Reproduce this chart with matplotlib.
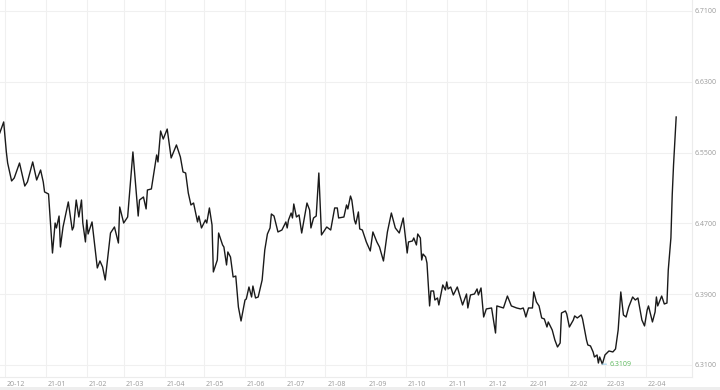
import matplotlib
matplotlib.use("Agg")
import matplotlib.pyplot as plt
import matplotlib.dates as mdates
import pandas as pd
from matplotlib.patches import Rectangle

plt.rcParams['font.family'] = ['Open Sans', 'DejaVu Sans']

dates = [
    "2020-11-27", "2020-11-30", "2020-12-02", "2020-12-03", "2020-12-06", "2020-12-08", "2020-12-12",
    "2020-12-16", "2020-12-18", "2020-12-22", "2020-12-25", "2020-12-28", "2020-12-30", "2020-12-31",
    "2021-01-03", "2021-01-06", "2021-01-08", "2021-01-09", "2021-01-11", "2021-01-12", "2021-01-14",
    "2021-01-18", "2021-01-21", "2021-01-22", "2021-01-24", "2021-01-26", "2021-01-28", "2021-01-29", "2021-01-31",
    "2021-02-01", "2021-02-02", "2021-02-05", "2021-02-09", "2021-02-11", "2021-02-13", "2021-02-15",
    "2021-02-17", "2021-02-19", "2021-02-22", "2021-02-25", "2021-02-26",
    "2021-03-01", "2021-03-04", "2021-03-08", "2021-03-12", "2021-03-13", "2021-03-16", "2021-03-18",
    "2021-03-19", "2021-03-22", "2021-03-26", "2021-03-27", "2021-03-29", "2021-03-31",
    "2021-04-03", "2021-04-06", "2021-04-10", "2021-04-13", "2021-04-15", "2021-04-17", "2021-04-19",
    "2021-04-21", "2021-04-23", "2021-04-26", "2021-04-27", "2021-04-29",
    "2021-05-02", "2021-05-03", "2021-05-05", "2021-05-07", "2021-05-08", "2021-05-11", "2021-05-12", "2021-05-15",
    "2021-05-16", "2021-05-18", "2021-05-19", "2021-05-21", "2021-05-23", "2021-05-25", "2021-05-27", "2021-05-29",
    "2021-06-01", "2021-06-02", "2021-06-04", "2021-06-06", "2021-06-07", "2021-06-09", "2021-06-11", "2021-06-14",
    "2021-06-16", "2021-06-18", "2021-06-20", "2021-06-21", "2021-06-23", "2021-06-26", "2021-06-29",
    "2021-07-02", "2021-07-03", "2021-07-04", "2021-07-06", "2021-07-07", "2021-07-08", "2021-07-10", "2021-07-12",
    "2021-07-14", "2021-07-18", "2021-07-20", "2021-07-21", "2021-07-23", "2021-07-25", "2021-07-27", "2021-07-29",
    "2021-08-02", "2021-08-05", "2021-08-08", "2021-08-10", "2021-08-11", "2021-08-15", "2021-08-17", "2021-08-18",
    "2021-08-20", "2021-08-21", "2021-08-23", "2021-08-24", "2021-08-26", "2021-08-27", "2021-08-29", "2021-08-31",
    "2021-09-01", "2021-09-04", "2021-09-06", "2021-09-09", "2021-09-11", "2021-09-14", "2021-09-17", "2021-09-20",
    "2021-09-23", "2021-09-26", "2021-09-29",
    "2021-10-02", "2021-10-03", "2021-10-06", "2021-10-07", "2021-10-09", "2021-10-10", "2021-10-12", "2021-10-13",
    "2021-10-14", "2021-10-16", "2021-10-17", "2021-10-19", "2021-10-20", "2021-10-22", "2021-10-23", "2021-10-25",
    "2021-10-26", "2021-10-28", "2021-10-29", "2021-10-31",
    "2021-11-01", "2021-11-02", "2021-11-04", "2021-11-06", "2021-11-09", "2021-11-13", "2021-11-16", "2021-11-17",
    "2021-11-19", "2021-11-22", "2021-11-24", "2021-11-25", "2021-11-27", "2021-11-29",
    "2021-12-01", "2021-12-05", "2021-12-08", "2021-12-09", "2021-12-14", "2021-12-17", "2021-12-20", "2021-12-24",
    "2021-12-27", "2021-12-29", "2021-12-30", "2021-12-31",
    "2022-01-02", "2022-01-05", "2022-01-06", "2022-01-08", "2022-01-10", "2022-01-12", "2022-01-14", "2022-01-16",
    "2022-01-17", "2022-01-20", "2022-01-22", "2022-01-24", "2022-01-26", "2022-01-27", "2022-01-30", "2022-01-31",
    "2022-02-02", "2022-02-05", "2022-02-06", "2022-02-08", "2022-02-11", "2022-02-12", "2022-02-15", "2022-02-16",
    "2022-02-18", "2022-02-20", "2022-02-21", "2022-02-23", "2022-02-24", "2022-02-25", "2022-02-27",
    "2022-03-01", "2022-03-04", "2022-03-07", "2022-03-09", "2022-03-11", "2022-03-13", "2022-03-15", "2022-03-17",
    "2022-03-19", "2022-03-22", "2022-03-24", "2022-03-26", "2022-03-29", "2022-03-31",
    "2022-04-02", "2022-04-03", "2022-04-06", "2022-04-08", "2022-04-09", "2022-04-10", "2022-04-13", "2022-04-15",
    "2022-04-17", "2022-04-18", "2022-04-20", "2022-04-21", "2022-04-22", "2022-04-24",
]

rates = [
    6.5721, 6.5846, 6.5507, 6.5382, 6.5179, 6.5213, 6.5382, 6.5122, 6.5168, 6.5394, 6.5190, 6.5303, 6.5168, 6.5055,
    6.5032, 6.4365, 6.4704, 6.4648, 6.4783, 6.4433, 6.4659, 6.4942, 6.4625, 6.4659, 6.4964, 6.4772, 6.4964, 6.4704, 6.4490,
    6.4738, 6.4580, 6.4716, 6.4196, 6.4275, 6.4207, 6.4060, 6.4320, 6.4591, 6.4659, 6.4478, 6.4885,
    6.4704, 6.4772, 6.5507, 6.4783, 6.4964, 6.4998, 6.4863, 6.5077, 6.5089, 6.5473, 6.5394, 6.5744, 6.5653,
    6.5766, 6.5439, 6.5586, 6.5450, 6.5281, 6.5269, 6.5043, 6.4908, 6.4930, 6.4716, 6.4783, 6.4648,
    6.4738, 6.4704, 6.4874, 6.4682, 6.4151, 6.4286, 6.4591, 6.4456, 6.4433, 6.4230, 6.4377, 6.4320, 6.4094, 6.4105, 6.3755, 6.3597,
    6.3834, 6.3846, 6.3981, 6.3868, 6.3992, 6.3857, 6.3868, 6.4060, 6.4399, 6.4580, 6.4648, 6.4806, 6.4783, 6.4603, 6.4625,
    6.4716, 6.4648, 6.4738, 6.4817, 6.4761, 6.4919, 6.4772, 6.4795, 6.4591, 6.4930, 6.4851, 6.4648, 6.4761, 6.4783, 6.5269, 6.4569,
    6.4659, 6.4625, 6.4874, 6.4874, 6.4761, 6.4772, 6.4908, 6.4863, 6.5009, 6.4964, 6.4738, 6.4693, 6.4829, 6.4637, 6.4625, 6.4535,
    6.4490, 6.4388, 6.4603, 6.4490, 6.4433, 6.4275, 6.4603, 6.4817, 6.4648, 6.4591, 6.4761,
    6.4365, 6.4490, 6.4501, 6.4535, 6.4456, 6.4580, 6.4535, 6.4286, 6.4354, 6.4320, 6.4252, 6.3767, 6.3936, 6.3936, 6.3834, 6.3857,
    6.3778, 6.3925, 6.4004, 6.3947,
    6.4038, 6.3959, 6.3981, 6.3891, 6.3981, 6.3778, 6.3902, 6.3744, 6.3891, 6.3902, 6.3959, 6.3891, 6.3970, 6.3642,
    6.3733, 6.3744, 6.3461, 6.3767, 6.3744, 6.3879, 6.3767, 6.3744, 6.3733, 6.3744, 6.3699, 6.3642,
    6.3744, 6.3744, 6.3925, 6.3812, 6.3767, 6.3631, 6.3620, 6.3529, 6.3586, 6.3495, 6.3382, 6.3303, 6.3348, 6.3687, 6.3710, 6.3676,
    6.3529, 6.3608, 6.3654, 6.3631, 6.3665, 6.3620, 6.3382, 6.3326, 6.3315, 6.3247, 6.3190, 6.3213, 6.3122, 6.3190, 6.3109,
    6.3213, 6.3258, 6.3247, 6.3281, 6.3495, 6.3925, 6.3665, 6.3642, 6.3755, 6.3868, 6.3834, 6.3857, 6.3608, 6.3541,
    6.3721, 6.3767, 6.3586, 6.3699, 6.3868, 6.3767, 6.3879, 6.3789, 6.3800, 6.4173, 6.4535, 6.5021, 6.5360, 6.5902,
]

y_ticks = [6.31, 6.39, 6.47, 6.55, 6.63, 6.71]
month_ticks = pd.date_range("2020-12-01", "2022-04-01", freq="MS")

x = pd.to_datetime(dates)
fig = plt.figure(figsize=(7.2, 3.9), dpi=100)
ax = fig.add_axes([0, 13 / 390, 692 / 720, 377 / 390])

ax.plot(x, rates, color="#1a1a1a", lw=1.0, zorder=3)

t0 = mdates.date2num(pd.Timestamp("2020-12-01"))
ax.set_xlim(t0 - 3.8, t0 + 521)
ax.set_ylim(6.2964, 6.7224)

ax.set_yticks(y_ticks)
ax.set_yticklabels([f"{v:.4f}" for v in y_ticks])
ax.yaxis.tick_right()
ax.tick_params(axis="y", length=0, pad=2, labelsize=5, labelcolor="#9a9a9a")

ax.set_xticks(month_ticks)
ax.xaxis.set_major_formatter(mdates.DateFormatter("%y-%m"))
ax.tick_params(axis="x", length=0, pad=3, labelsize=5, labelcolor="#9a9a9a")
for lab in ax.get_xticklabels():
    lab.set_horizontalalignment("left")
    lab.set_x(0)
import matplotlib.transforms as mtransforms
offset = mtransforms.ScaledTranslation(2 / 100, 0, fig.dpi_scale_trans)
for lab in ax.get_xticklabels():
    lab.set_transform(lab.get_transform() + offset)

ax.grid(True, color="#f0f0f0", lw=0.8, zorder=0)
for s in ["top", "left"]:
    ax.spines[s].set_visible(False)
for s in ["bottom", "right"]:
    ax.spines[s].set_color("#ececec")
    ax.spines[s].set_linewidth(0.8)

i_min = rates.index(min(rates))
ax.annotate(f"{rates[i_min]:.4f}", xy=(x[i_min], rates[i_min]), xytext=(5, 0),
            textcoords="offset points", fontsize=5, color="#5cb85c", va="center", ha="left",
            arrowprops=dict(arrowstyle="-", color="#9fd0ea", lw=0.8, shrinkA=0, shrinkB=0))

fig.patches.append(Rectangle((0, 0), 1, 3 / 390, transform=fig.transFigure,
                             facecolor="#eeeeee", edgecolor="none"))

fig.savefig("out.png", dpi=100, facecolor="white")
